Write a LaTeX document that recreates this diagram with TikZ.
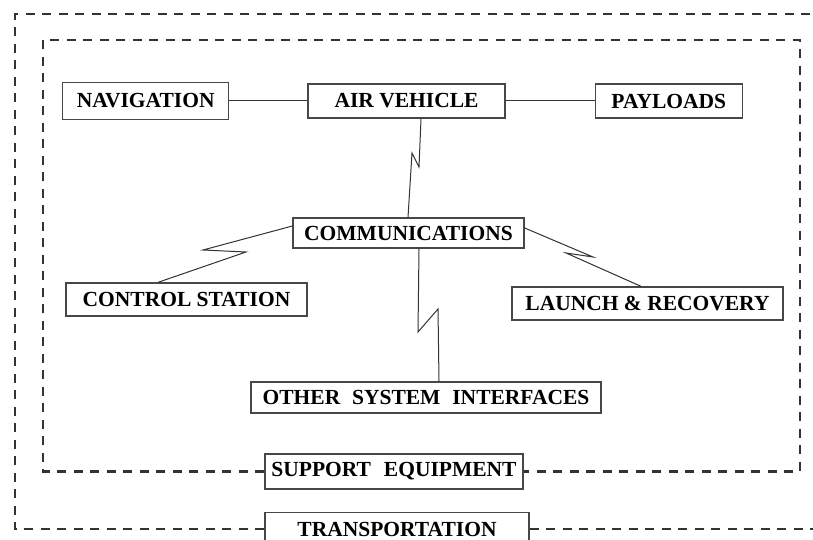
\documentclass[tikz,border=0pt]{standalone}
\usepackage{fontspec}
\setmainfont{Liberation Serif}
\usepackage{tikz}
\usetikzlibrary{positioning}
\definecolor{boxgray}{HTML}{474747}
\definecolor{dashgray}{HTML}{333333}

\begin{document}
\begin{tikzpicture}[
  x=1pt,y=-1pt,
  font=\fontsize{21.5}{25}\selectfont\bfseries,
  wire/.style={draw=black!80,line width=1pt},
  blk/.style={draw=boxgray,line width=1.3pt,fill=white,inner sep=0pt,
              minimum height=34pt,align=center},
  border/.style={draw=dashgray,line width=2.3pt,dash pattern=on 9pt off 7.5pt}
]
\useasboundingbox (0,0) rectangle (813,540);
\clip (0,0) rectangle (813,540);

\node[blk,minimum width=197pt] (av) at (406.5,101) {AIR VEHICLE};
\node[blk,minimum width=166pt,minimum height=37pt,left=78pt of av] (nav) {NAVIGATION};
\node[blk,minimum width=147pt,right=89pt of av] (pay) {PAYLOADS};
\node[blk,minimum width=231pt,minimum height=30pt] (comm) at (408.5,233) {COMMUNICATIONS};
\node[blk,minimum width=241pt,minimum height=33pt] (cs) at (186.5,299.5) {CONTROL STATION};
\node[blk,minimum width=271pt,minimum height=33pt] (lr) at (647.5,303.5) {LAUNCH \& RECOVERY};
\node[blk,minimum width=350pt,minimum height=31pt] (osi) at (426,397.5)
  {OTHER\hspace{0.55em}SYSTEM\hspace{0.55em}INTERFACES};
\node[blk,minimum width=258pt,minimum height=35pt] (se) at (394,471.5)
  {SUPPORT\hspace{0.6em}EQUIPMENT};
\node[blk,minimum width=264pt,below=22pt of se,xshift=3pt] (tr) {TRANSPORTATION};
\coordinate (intl) at (43,40);
\coordinate (intr) at (800,40);
\coordinate (outtl) at (15,14);
\coordinate (outtr) at (830,14);

\draw[wire] (nav) -- (av);
\draw[wire] (av) -- (pay);
\draw[wire] ([xshift=14.5pt]av.south) -- (419,167) -- (412,153)
  -- ([xshift=-0.5pt]comm.north);
\draw[wire] ([yshift=7pt]comm.west) -- (203,250) -- (246,252)
  -- ([xshift=-28.5pt]cs.north);
\draw[wire] ([yshift=5pt]comm.east) -- (593,257) -- (566,253)
  -- ([xshift=-6.5pt]lr.north);
\draw[wire] ([xshift=10.5pt]comm.south) -- (418,332) -- (438,309)
  -- ([xshift=13pt]osi.north);

\draw[border] (se.west) -| (intl) -- (intr) |- (se.east);
\draw[border] (tr.west) -| (outtl) -- (outtr);
\draw[border] (tr.east) -- (tr.east -| outtr);
\end{tikzpicture}
\end{document}
